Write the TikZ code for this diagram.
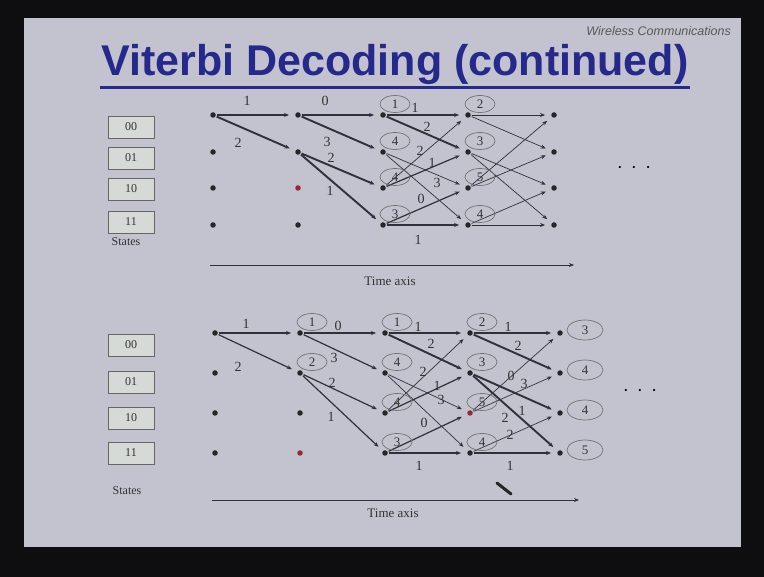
\documentclass[tikz,border=0pt]{standalone}
\usepackage{fontspec}
\setmainfont{Liberation Serif}
\newfontfamily\titlefont{Liberation Sans}
\usepackage{tikz}
\usetikzlibrary{shapes.geometric,arrows.meta,positioning,calc}
\definecolor{colFrame}{RGB}{14,14,16}
\definecolor{colSlide}{RGB}{194,195,206}
\definecolor{colTitle}{RGB}{38,40,140}
\definecolor{colLine}{RGB}{48,48,58}
\definecolor{colRed}{RGB}{150,40,60}
\definecolor{colBox}{RGB}{214,218,214}
\tikzset{
  st/.style     = {circle, fill=black!85, inner sep=0pt, minimum size=5.5pt},
  redst/.style  = {st, fill=colRed},
  edge/.style   = {-{Stealth[length=5pt,width=4pt]}, draw=colLine,
                   line width=0.7pt, shorten >=6pt, shorten <=1pt},
  medge/.style  = {edge, line width=1.2pt},
  sedge/.style  = {edge, line width=1.9pt},
  bm/.style     = {inner sep=0pt, text=black!80,
                   font=\fontsize{14}{14}\selectfont},
  pm/.style     = {ellipse, draw=black!55, line width=0.7pt, inner sep=0pt,
                   minimum width=30pt, minimum height=17pt, text=black!80,
                   font=\fontsize{13}{13}\selectfont},
  pmend/.style  = {pm, minimum width=36pt, minimum height=20pt},
  statebox/.style = {rectangle, draw=black!60, fill=colBox, line width=0.8pt,
                   minimum width=46pt, minimum height=22pt, text=black!80,
                   font=\fontsize{12}{12}\selectfont},
  plain/.style  = {inner sep=0pt, text=black!80,
                   font=\fontsize{13}{13}\selectfont},
  axis/.style   = {-{Stealth[length=5pt,width=4pt]}, draw=colLine,
                   line width=0.9pt},
}
\begin{document}
\begin{tikzpicture}[x=1pt, y=-1pt]

%% ── Slide frame ───────────────────────────────────────────
\fill[colFrame] (0,0) rectangle (764,577);
\useasboundingbox (0,0) rectangle (764,577);
\fill[colSlide] (24,18) rectangle (741,547);

%% ── Header ────────────────────────────────────────────────
\node[anchor=east, text=black!65, inner sep=0pt,
      font=\titlefont\itshape\fontsize{12.5}{12.5}\selectfont]
  (course) at (731,31) {Wireless Communications};
\node[text=colTitle, inner sep=1pt,
      font=\titlefont\bfseries\fontsize{43}{43}\selectfont]
  (title) at (395,64) {Viterbi Decoding (continued)};
\draw[colTitle, line width=2.4pt]
  ([yshift=-2pt]title.south west) -- ([yshift=-2pt]title.south east);

%% ── Upper trellis: state labels ───────────────────────────
\node[statebox] (sU0) at (131,127) {00};
\node[statebox] (sU1) at (131,158) {01};
\node[statebox] (sU2) at (131,189) {10};
\node[statebox] (sU3) at (131,222) {11};
\node[plain, font=\fontsize{12}{12}\selectfont] (statesU) at (126,242) {States};

%% ── Upper trellis: nodes ──────────────────────────────────
\node[st]    (U00) at (213,115) {};
\node[st]    (U01) at (213,152) {};
\node[st]    (U02) at (213,188) {};
\node[st]    (U03) at (213,225) {};
\node[st]    (U10) at (298,115) {};
\node[st]    (U11) at (298,152) {};
\node[redst] (U12) at (298,188) {};
\node[st]    (U13) at (298,225) {};
\node[st]    (U20) at (383,115) {};
\node[st]    (U21) at (383,152) {};
\node[st]    (U22) at (383,188) {};
\node[st]    (U23) at (383,225) {};
\node[st]    (U30) at (468,115) {};
\node[st]    (U31) at (468,152) {};
\node[st]    (U32) at (468,188) {};
\node[st]    (U33) at (468,225) {};
\node[st]    (U40) at (554,115) {};
\node[st]    (U41) at (554,152) {};
\node[st]    (U42) at (554,188) {};
\node[st]    (U43) at (554,225) {};

%% ── Upper trellis: branches ───────────────────────────────
\draw[sedge] (U00) -- (U10);
\draw[sedge] (U00) -- (U11);
\draw[sedge] (U10) -- (U20);
\draw[sedge] (U10) -- (U21);
\draw[sedge] (U11) -- (U22);
\draw[sedge] (U11) -- (U23);
\draw[sedge] (U20) -- (U30);
\draw[sedge] (U20) -- (U31);
\draw[edge]  (U21) -- (U32);
\draw[edge]  (U21) -- (U33);
\draw[edge]  (U22) -- (U30);
\draw[medge] (U22) -- (U31);
\draw[medge] (U23) -- (U32);
\draw[sedge] (U23) -- (U33);
\draw[edge]  (U30) -- (U40);
\draw[edge]  (U30) -- (U41);
\draw[edge]  (U31) -- (U42);
\draw[edge]  (U31) -- (U43);
\draw[edge]  (U32) -- (U40);
\draw[edge]  (U32) -- (U41);
\draw[edge]  (U33) -- (U42);
\draw[edge]  (U33) -- (U43);

%% ── Upper trellis: branch metrics ─────────────────────────
\node[bm] (bU0a) at (247,101) {1};
\node[bm] (bU0b) at (238,143) {2};
\node[bm] (bU1a) at (325,101) {0};
\node[bm] (bU1b) at (327,142) {3};
\node[bm] (bU1c) at (331,158) {2};
\node[bm] (bU1d) at (330,191) {1};
\node[bm] (bU2a) at (415,108) {1};
\node[bm] (bU2b) at (427,127) {2};
\node[bm] (bU2c) at (420,151) {2};
\node[bm] (bU2d) at (432,163) {1};
\node[bm] (bU2e) at (437,183) {3};
\node[bm] (bU2f) at (421,199) {0};
\node[bm] (bU2g) at (418,240) {1};

%% ── Upper trellis: path metrics ───────────────────────────
\node[pm] (pU20) at ([shift={(12,-11)}]U20) {1};
\node[pm] (pU21) at ([shift={(12,-11)}]U21) {4};
\node[pm] (pU22) at ([shift={(12,-11)}]U22) {4};
\node[pm] (pU23) at ([shift={(12,-11)}]U23) {3};
\node[pm] (pU30) at ([shift={(12,-11)}]U30) {2};
\node[pm] (pU31) at ([shift={(12,-11)}]U31) {3};
\node[pm] (pU32) at ([shift={(12,-11)}]U32) {5};
\node[pm] (pU33) at ([shift={(12,-11)}]U33) {4};

\node[inner sep=0pt, font=\fontsize{9}{9}\selectfont] (moreU) at (634,168)
  {\textbullet\hspace{11pt}\textbullet\hspace{11pt}\textbullet};

%% ── Upper time axis ───────────────────────────────────────
\coordinate (axU0) at (210,265);
\coordinate (axU1) at (574,265);
\draw[axis] (axU0) -- (axU1);
\node[plain] (timeU) at (390,281) {Time axis};

%% ── Lower trellis: state labels ───────────────────────────
\node[statebox] (sL0) at (131,345) {00};
\node[statebox] (sL1) at (131,382) {01};
\node[statebox] (sL2) at (131,418) {10};
\node[statebox] (sL3) at (131,453) {11};
\node[plain, font=\fontsize{12}{12}\selectfont] (statesL) at (127,491) {States};

%% ── Lower trellis: nodes ──────────────────────────────────
\node[st]    (L00) at (215,333) {};
\node[st]    (L01) at (215,373) {};
\node[st]    (L02) at (215,413) {};
\node[st]    (L03) at (215,453) {};
\node[st]    (L10) at (300,333) {};
\node[st]    (L11) at (300,373) {};
\node[st]    (L12) at (300,413) {};
\node[redst] (L13) at (300,453) {};
\node[st]    (L20) at (385,333) {};
\node[st]    (L21) at (385,373) {};
\node[st]    (L22) at (385,413) {};
\node[st]    (L23) at (385,453) {};
\node[st]    (L30) at (470,333) {};
\node[st]    (L31) at (470,373) {};
\node[redst] (L32) at (470,413) {};
\node[st]    (L33) at (470,453) {};
\node[st]    (L40) at (560,333) {};
\node[st]    (L41) at (560,373) {};
\node[st]    (L42) at (560,413) {};
\node[st]    (L43) at (560,453) {};

%% ── Lower trellis: branches ───────────────────────────────
\draw[medge] (L00) -- (L10);
\draw[medge] (L00) -- (L11);
\draw[sedge] (L10) -- (L20);
\draw[medge] (L10) -- (L21);
\draw[medge] (L11) -- (L22);
\draw[medge] (L11) -- (L23);
\draw[sedge] (L20) -- (L30);
\draw[sedge] (L20) -- (L31);
\draw[edge]  (L21) -- (L32);
\draw[edge]  (L21) -- (L33);
\draw[edge]  (L22) -- (L30);
\draw[medge] (L22) -- (L31);
\draw[medge] (L23) -- (L32);
\draw[sedge] (L23) -- (L33);
\draw[sedge] (L30) -- (L40);
\draw[sedge] (L30) -- (L41);
\draw[sedge] (L31) -- (L42);
\draw[sedge] (L31) -- (L43);
\draw[edge]  (L32) -- (L40);
\draw[edge]  (L32) -- (L41);
\draw[edge]  (L33) -- (L42);
\draw[medge] (L33) -- (L43);

%% ── Lower trellis: branch metrics ─────────────────────────
\node[bm] (bL0a) at (246,324) {1};
\node[bm] (bL0b) at (238,367) {2};
\node[bm] (bL1a) at (338,326) {0};
\node[bm] (bL1b) at (334,358) {3};
\node[bm] (bL1c) at (332,383) {2};
\node[bm] (bL1d) at (331,417) {1};
\node[bm] (bL2a) at (418,327) {1};
\node[bm] (bL2b) at (431,344) {2};
\node[bm] (bL2c) at (423,372) {2};
\node[bm] (bL2d) at (437,386) {1};
\node[bm] (bL2e) at (441,400) {3};
\node[bm] (bL2f) at (424,423) {0};
\node[bm] (bL2g) at (419,466) {1};
\node[bm] (bL3a) at (508,327) {1};
\node[bm] (bL3b) at (518,346) {2};
\node[bm] (bL3c) at (511,376) {0};
\node[bm] (bL3d) at (524,384) {3};
\node[bm] (bL3e) at (522,411) {1};
\node[bm] (bL3f) at (505,418) {2};
\node[bm] (bL3g) at (510,435) {2};
\node[bm] (bL3h) at (510,466) {1};

%% ── Lower trellis: path metrics ───────────────────────────
\node[pm] (pL10) at ([shift={(12,-11)}]L10) {1};
\node[pm] (pL11) at ([shift={(12,-11)}]L11) {2};
\node[pm] (pL20) at ([shift={(12,-11)}]L20) {1};
\node[pm] (pL21) at ([shift={(12,-11)}]L21) {4};
\node[pm] (pL22) at ([shift={(12,-11)}]L22) {4};
\node[pm] (pL23) at ([shift={(12,-11)}]L23) {3};
\node[pm] (pL30) at ([shift={(12,-11)}]L30) {2};
\node[pm] (pL31) at ([shift={(12,-11)}]L31) {3};
\node[pm] (pL32) at ([shift={(12,-11)}]L32) {5};
\node[pm] (pL33) at ([shift={(12,-11)}]L33) {4};
\node[pmend] (pL40) at ([shift={(25,-3)}]L40) {3};
\node[pmend] (pL41) at ([shift={(25,-3)}]L41) {4};
\node[pmend] (pL42) at ([shift={(25,-3)}]L42) {4};
\node[pmend] (pL43) at ([shift={(25,-3)}]L43) {5};

\node[inner sep=0pt, font=\fontsize{9}{9}\selectfont] (moreL) at (640,391)
  {\textbullet\hspace{11pt}\textbullet\hspace{11pt}\textbullet};

%% ── Lower time axis ───────────────────────────────────────
\coordinate (axL0) at (212,500);
\coordinate (axL1) at (579,500);
\draw[axis] (axL0) -- (axL1);
\node[plain] (timeL) at (393,513) {Time axis};

%% pointer mark
\draw[black!85, line width=3pt, line cap=round] (497,483) -- (511,494);

\end{tikzpicture}
\end{document}
